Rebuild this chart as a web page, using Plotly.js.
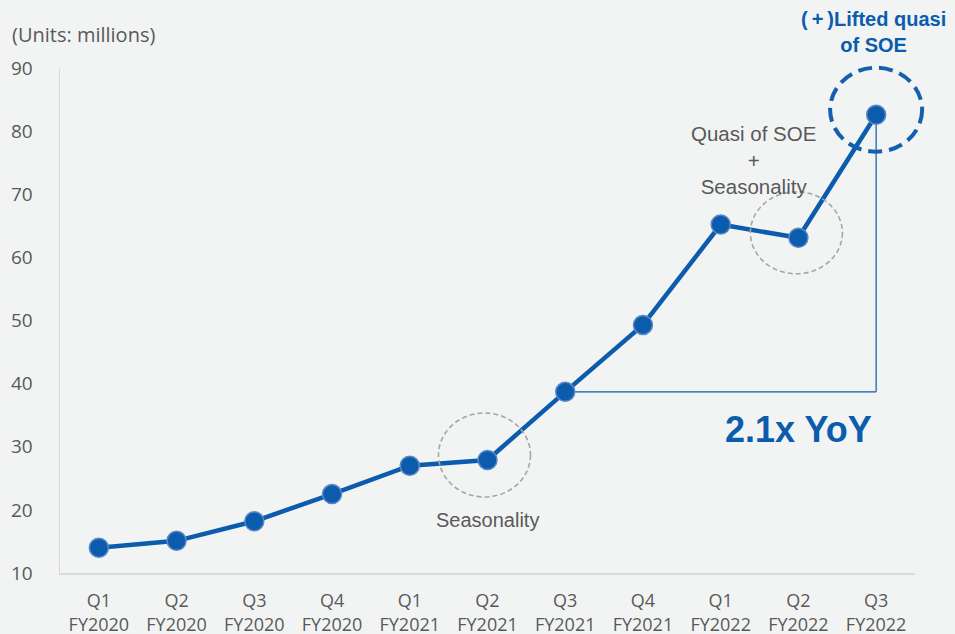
<!DOCTYPE html>
<html>
<head>
<meta charset="utf-8">
<script src="https://cdn.plot.ly/plotly-3.0.1.min.js"></script>
<style>html,body{margin:0;padding:0;background:#f2f4f4;}#chart{width:955px;height:634px;}</style>
</head>
<body>
<div id="chart"></div>
<script>
const quarters = ["Q1","Q2","Q3","Q4","Q1","Q2","Q3","Q4","Q1","Q2","Q3"];
const fiscalYears = ["FY2020","FY2020","FY2020","FY2020","FY2021","FY2021","FY2021","FY2021","FY2022","FY2022","FY2022"];
const units = [14.0, 15.1, 18.2, 22.5, 27.0, 27.9, 38.7, 49.3, 65.2, 63.1, 82.6];
const yTicks = [10, 20, 30, 40, 50, 60, 70, 80, 90];

const cats = quarters.map((q, i) => q + "<br>" + fiscalYears[i]);
const BLUE = "#0B5CAD";
const GREY_TXT = "#595959";
const Y_MIN = 10, Y_MAX = 90;

const trace = {
  x: cats, y: units, type: "scatter", mode: "lines+markers",
  line: {color: BLUE, width: 4.5},
  marker: {color: BLUE, size: 19, line: {color: "#5A87C6", width: 1.5}},
  hoverinfo: "skip", cliponaxis: false
};

const iQ3_21 = 6, iQ2_21 = 5, iQ2_22 = 9, iQ3_22 = 10;
const lastPx = (iQ3_22 + 0.5) / cats.length;
const lastPy = (units[iQ3_22] - Y_MIN) / (Y_MAX - Y_MIN);

const shapes = [
  {type: "line", xref: "x", yref: "y", x0: cats[iQ3_21], x1: cats[iQ3_22], y0: units[iQ3_21], y1: units[iQ3_21], line: {color: BLUE, width: 1.2}, layer: "below"},
  {type: "line", xref: "x", yref: "y", x0: cats[iQ3_22], x1: cats[iQ3_22], y0: units[iQ3_21], y1: units[iQ3_22], line: {color: BLUE, width: 1.2}, layer: "below"},
  {type: "circle", xref: "x", yref: "y", xsizemode: "pixel", ysizemode: "pixel", xanchor: cats[iQ2_21], yanchor: units[iQ2_21], x0: -49, x1: 43, y0: -37, y1: 47, line: {color: "#A6A6A6", width: 1.6, dash: "5px,3px"}},
  {type: "circle", xref: "x", yref: "y", xsizemode: "pixel", ysizemode: "pixel", xanchor: cats[iQ2_22], yanchor: units[iQ2_22], x0: -48, x1: 44, y0: -36, y1: 46, line: {color: "#A6A6A6", width: 1.6, dash: "5px,3px"}},
  {type: "circle", xref: "paper", yref: "paper", xsizemode: "pixel", ysizemode: "pixel", xanchor: lastPx, yanchor: lastPy, x0: -46, x1: 46, y0: -37, y1: 47, line: {color: "#1560AE", width: 4, dash: "14px,7px"}}
];

const annotations = [
  {xref: "x", yref: "y", x: iQ2_21, y: 18.4, text: "Seasonality", showarrow: false,
   font: {family: "Liberation Sans, Arial", size: 20, color: GREY_TXT}},
  {xref: "x", yref: "y", x: 8.42, y: 75.4, text: "Quasi of SOE<br>+<br>Seasonality", showarrow: false,
   font: {family: "Liberation Sans, Arial", size: 20.5, color: GREY_TXT}},
  {xref: "x", yref: "y", x: iQ2_22, y: 32.8, text: "<b>2.1x YoY</b>", showarrow: false,
   font: {family: "Liberation Sans, Arial", size: 36, color: BLUE}},
  {xref: "x", yref: "paper", x: iQ3_22, y: 1.071, yanchor: "middle", text: "<b>(\u2009+\u2009)Lifted quasi<br>of SOE</b>", showarrow: false, xshift: -3,
   font: {family: "Liberation Sans, Arial", size: 20, color: BLUE}}
];

const layout = {
  width: 955, height: 634,
  paper_bgcolor: "#f2f4f4", plot_bgcolor: "#f2f4f4",
  margin: {l: 60, r: 40, t: 68, b: 61},
  showlegend: false,
  title: {text: "(Units: millions)", x: 12/955, xanchor: "left", xref: "container", yref: "container", y: 1 - 35/634, yanchor: "middle",
          font: {family: "Open Sans", size: 20, color: GREY_TXT}},
  xaxis: {type: "category", range: [-0.5, 10.5], showgrid: false, zeroline: false, showline: true, linecolor: "#D9D9D9", linewidth: 1.5,
          ticks: "", tickfont: {family: "Open Sans", size: 18, color: GREY_TXT}, ticklabelstandoff: 11, fixedrange: true},
  yaxis: {range: [Y_MIN, Y_MAX], tickvals: yTicks, showgrid: false, zeroline: false, showline: true, linecolor: "#D9D9D9", linewidth: 1.5,
          ticks: "", tickfont: {family: "Open Sans", size: 19, color: GREY_TXT}, ticklabelstandoff: 22, fixedrange: true},
  shapes: shapes, annotations: annotations
};

Plotly.newPlot("chart", [trace], layout, {displayModeBar: false, staticPlot: true});
</script>
</body>
</html>
